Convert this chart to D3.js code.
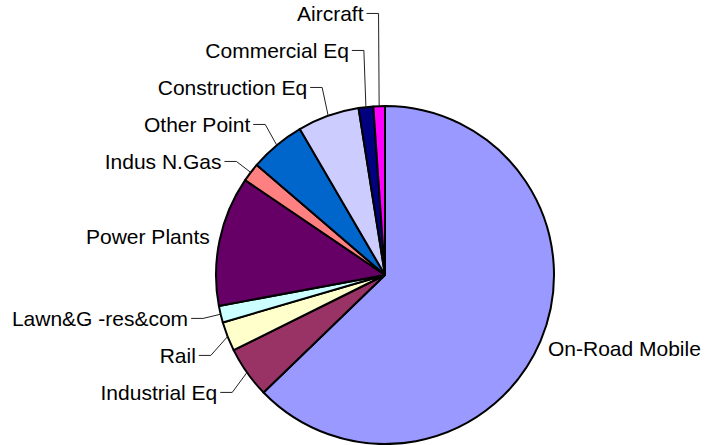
<!DOCTYPE html>
<html>
<head>
<meta charset="utf-8">
<script src="https://cdn.jsdelivr.net/npm/d3@7"></script>
<style>
  body { margin: 0; background: #fff; }
  svg { display: block; }
</style>
</head>
<body>
<div id="chart"></div>
<script>
// share of emissions by source (%)
const categories = ["On-Road Mobile", "Industrial Eq", "Rail", "Lawn&G -res&com", "Power Plants",
    "Indus N.Gas", "Other Point", "Construction Eq", "Commercial Eq", "Aircraft"];
const values = [62.7, 4.9, 2.8, 1.6, 12.4, 1.8, 5.3, 5.9, 1.4, 1.1];
const palette = ["#9999ff", "#993366", "#ffffcc", "#ccffff", "#660066",
    "#ff8080", "#0066cc", "#ccccff", "#000080", "#ff00ff"];

const width = 706, height = 445;
const cx = 385, cy = 275, radius = 169;

const svg = d3.select("#chart").append("svg")
    .attr("width", width)
    .attr("height", height)
    .style("font", "21px 'Liberation Sans', Arial, sans-serif");

const data = categories.map((c, i) => ({ name: c, value: values[i], color: palette[i] }));

const pie = d3.pie().sort(null).value(d => d.value);
const arcs = pie(data);
const arc = d3.arc().innerRadius(0).outerRadius(radius);

const g = svg.append("g").attr("transform", `translate(${cx},${cy})`);

g.selectAll("path")
    .data(arcs)
    .join("path")
        .attr("d", arc)
        .attr("fill", d => d.data.color)
        .attr("stroke", "#000")
        .attr("stroke-width", 2)
        .attr("stroke-linejoin", "round");

// label layout: small slices get a leader line, big ones sit on the edge
const total = d3.sum(values);
const labels = arcs.map(d => {
    const a = (d.startAngle + d.endAngle) / 2;
    const sx = Math.sin(a), sy = -Math.cos(a);
    const big = d.data.value / total > 0.1;
    const r = big ? radius + 8 : radius + 18;
    return {
        d, a, sx, sy, big,
        px: radius * sx, py: radius * sy,   // point on the rim
        x: r * sx, y: r * sy                // label elbow
    };
});

// push overlapping leader labels apart (upper ones up, lower ones down)
const gap = 37;
const upper = labels.filter(l => !l.big && l.y < 0).sort((a, b) => b.y - a.y);
for (let i = 1; i < upper.length; i++) {
    upper[i].y = Math.min(upper[i].y, upper[i - 1].y - gap);
}
const lower = labels.filter(l => !l.big && l.y >= 0).sort((a, b) => a.y - b.y);
for (let i = 1; i < lower.length; i++) {
    lower[i].y = Math.max(lower[i].y, lower[i - 1].y + gap);
}

const lab = g.append("g");

lab.selectAll("path")
    .data(labels.filter(l => !l.big))
    .join("path")
        .attr("fill", "none")
        .attr("stroke", "#222")
        .attr("stroke-width", 1)
        .attr("d", l => `M${l.px},${l.py}L${l.x},${l.y}L${l.x - 12},${l.y}`);

lab.selectAll("text")
    .data(labels)
    .join("text")
        .attr("x", l => l.big ? l.x + (l.sx < 0 ? -2 : 0) : l.x - 15)
        .attr("y", l => l.big ? l.y + l.sy * 12 : l.y)
        .attr("dy", "0.35em")
        .attr("text-anchor", l => l.sx < 0 ? "end" : "start")
        .attr("fill", "#000")
        .text(l => l.d.data.name);
</script>
</body>
</html>
